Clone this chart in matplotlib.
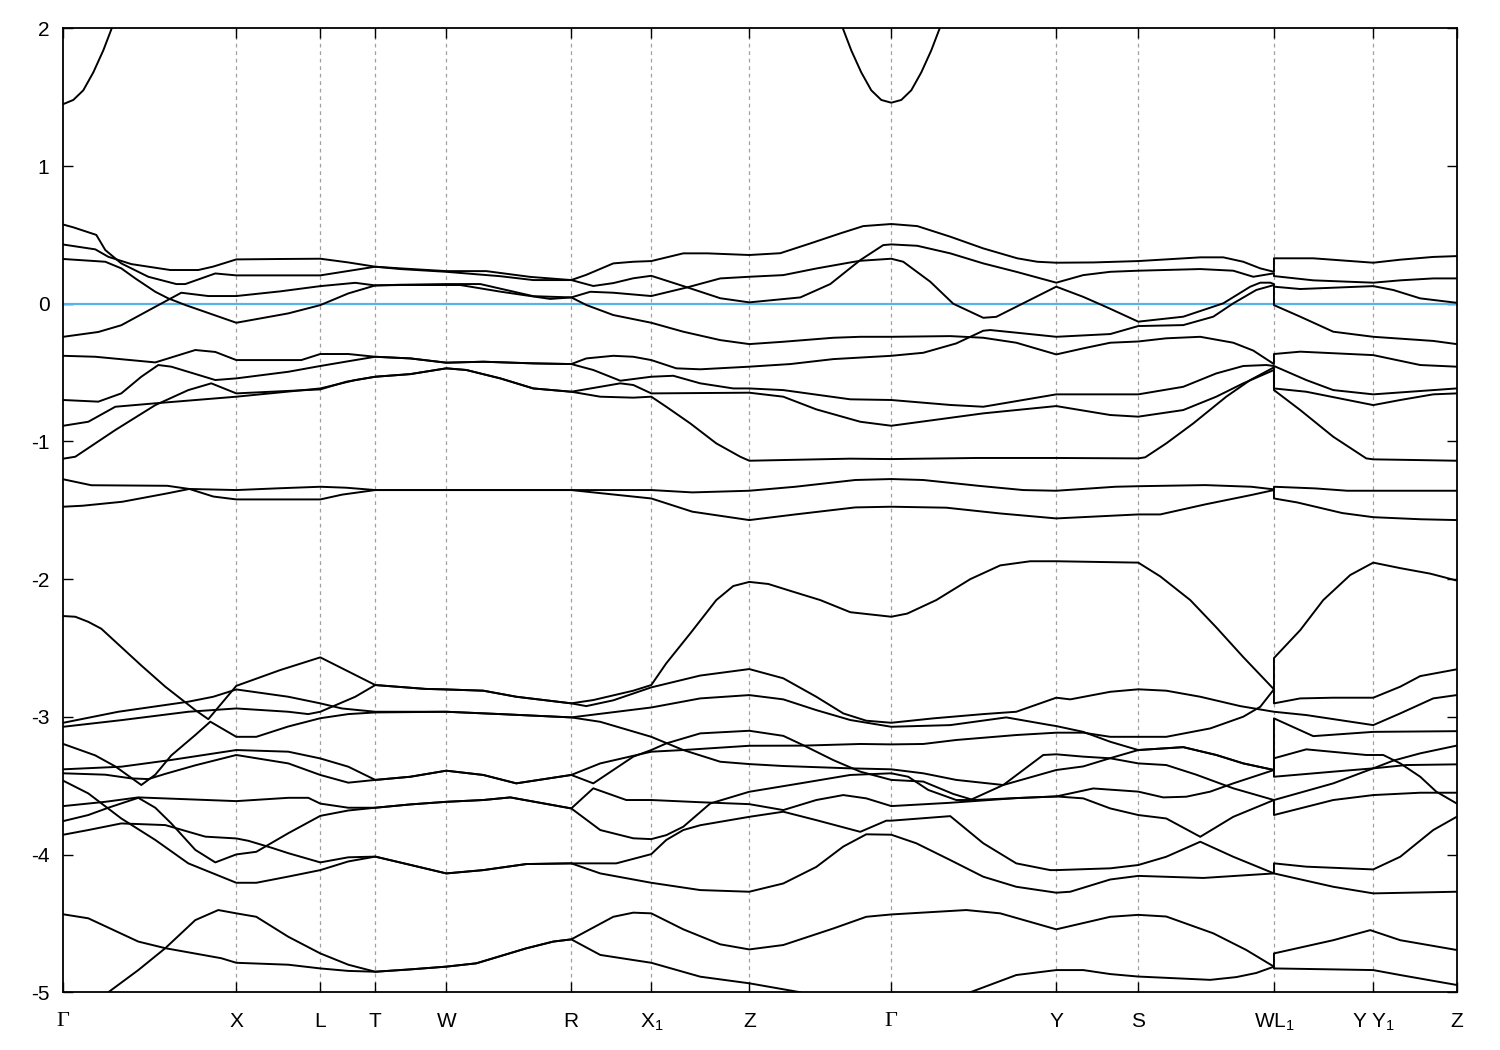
import matplotlib
matplotlib.use("Agg")
import matplotlib.pyplot as plt

plt.rcParams['font.family'] = ['Liberation Sans', 'DejaVu Sans']
plt.rcParams['mathtext.fontset'] = 'custom'
plt.rcParams['mathtext.rm'] = 'Liberation Sans'
plt.rcParams['mathtext.default'] = 'regular'
plt.rcParams['axes.unicode_minus'] = False

# ---- high-symmetry path ----
k_ticks = [0.0, 1.73, 2.57, 3.12, 3.83, 5.08, 5.88, 6.86, 8.28, 9.93, 10.75, 12.107, 13.10, 13.934]
k_labels = ['Γ', 'X', 'L', 'T', 'W', 'R', 'X$_1$', 'Z', 'Γ', 'Y', 'S', 'WL$_1$', 'Y Y$_1$', 'Z']
e_ticks = [2, 1, 0, -1, -2, -3, -4, -5]
e_fermi = 0.0

# ---- bands: (k, E) knots ----
band_c1 = [(0, 1.45), (0.10, 1.48), (0.20, 1.55), (0.30, 1.68), (0.40, 1.84), (0.50, 2.03), (0.65, 2.35),
           (0.9, 2.8), (7.4, 2.8), (7.66, 2.35), (7.78, 2.03), (7.88, 1.84), (7.98, 1.68), (8.08, 1.55),
           (8.18, 1.48), (8.28, 1.46), (8.38, 1.48), (8.48, 1.55), (8.58, 1.68), (8.68, 1.84), (8.78, 2.03),
           (8.92, 2.35), (9.2, 2.8), (13.934, 2.8)]

band_v1 = [(0, 0.575), (0.10, 0.555), (0.33, 0.50), (0.42, 0.39), (0.58, 0.293), (0.85, 0.196), (1.13, 0.143),
           (1.22, 0.143), (1.52, 0.22), (1.73, 0.206), (2.57, 0.206), (3.12, 0.269), (3.37, 0.257), (3.83, 0.237),
           (4.23, 0.237), (4.67, 0.195), (5.08, 0.172), (5.23, 0.21), (5.50, 0.293), (5.70, 0.305), (5.88, 0.31),
           (6.20, 0.366), (6.44, 0.366), (6.86, 0.354), (7.17, 0.367), (7.47, 0.438), (7.77, 0.511), (8.0, 0.564),
           (8.28, 0.579), (8.54, 0.564), (8.87, 0.487), (9.20, 0.402), (9.54, 0.33), (9.74, 0.305), (9.93, 0.298),
           (10.30, 0.30), (10.75, 0.31), (11.37, 0.337), (11.60, 0.337), (11.80, 0.305), (11.97, 0.257),
           (12.107, 0.232), (12.107, 0.33), (12.50, 0.33), (13.10, 0.298), (13.37, 0.32), (13.70, 0.34),
           (13.934, 0.346)]

band_v2 = [(0, 0.43), (0.32, 0.395), (0.45, 0.341), (0.68, 0.288), (1.07, 0.245), (1.35, 0.245), (1.50, 0.27),
           (1.73, 0.322), (2.17, 0.325), (2.57, 0.327), (2.85, 0.30), (3.12, 0.269), (3.37, 0.252), (3.83, 0.232),
           (4.37, 0.20), (4.70, 0.172), (5.08, 0.172), (5.30, 0.129), (5.50, 0.15), (5.70, 0.185), (5.88, 0.203),
           (6.24, 0.119), (6.57, 0.04), (6.86, 0.01), (7.37, 0.046), (7.67, 0.143), (7.97, 0.317), (8.20, 0.426),
           (8.28, 0.431), (8.54, 0.421), (8.87, 0.366), (9.20, 0.293), (9.53, 0.232), (9.93, 0.153),
           (10.20, 0.208), (10.47, 0.232), (10.75, 0.24), (11.37, 0.252), (11.70, 0.24), (11.90, 0.196),
           (12.107, 0.221), (12.107, 0.201), (12.50, 0.17), (13.10, 0.153), (13.37, 0.17), (13.70, 0.184),
           (13.934, 0.184)]

band_v3 = [(0, 0.325), (0.42, 0.305), (0.58, 0.257), (0.72, 0.184), (0.92, 0.087), (1.05, 0.039), (1.22, -0.009),
           (1.73, -0.138), (2.25, -0.07), (2.57, -0.01), (2.85, 0.075), (3.12, 0.133), (3.37, 0.138),
           (3.83, 0.143), (4.17, 0.143), (4.70, 0.055), (5.08, 0.046), (5.27, 0.087), (5.50, 0.08), (5.88, 0.056),
           (6.24, 0.119), (6.57, 0.184), (6.86, 0.196), (7.20, 0.208), (7.53, 0.256), (7.87, 0.30), (7.97, 0.312),
           (8.28, 0.327), (8.40, 0.305), (8.67, 0.16), (8.90, 0.0), (9.20, -0.102), (9.33, -0.095),
           (9.53, -0.022), (9.93, 0.124), (10.20, 0.05), (10.45, -0.03), (10.75, -0.13), (11.20, -0.094),
           (11.60, 0.003), (11.87, 0.124), (11.97, 0.153), (12.07, 0.153), (12.107, 0.143), (12.107, 0.124),
           (12.37, 0.107), (13.10, 0.128), (13.30, 0.10), (13.57, 0.039), (13.934, 0.007)]

band_v4 = [(0, -0.24), (0.35, -0.205), (0.58, -0.156), (0.92, -0.022), (1.18, 0.08), (1.45, 0.056),
           (1.73, 0.056), (2.17, 0.09), (2.57, 0.128), (2.92, 0.152), (3.12, 0.133), (3.37, 0.136), (3.83, 0.136),
           (3.97, 0.136), (4.37, 0.088), (4.87, 0.035), (5.08, 0.046), (5.23, -0.009), (5.50, -0.082),
           (5.88, -0.138), (6.20, -0.203), (6.57, -0.264), (6.86, -0.293), (7.20, -0.276), (7.70, -0.247),
           (7.97, -0.24), (8.28, -0.24), (8.87, -0.235), (9.20, -0.247), (9.53, -0.283), (9.93, -0.368),
           (10.20, -0.324), (10.47, -0.283), (10.75, -0.274), (11.03, -0.251), (11.37, -0.24), (11.70, -0.283),
           (11.90, -0.34), (12.107, -0.438), (12.107, -0.365), (12.37, -0.348), (13.10, -0.373), (13.57, -0.445),
           (13.934, -0.457)]

band_v5 = [(0, -0.378), (0.32, -0.385), (0.92, -0.426), (1.32, -0.336), (1.52, -0.35), (1.73, -0.409),
           (2.38, -0.409), (2.57, -0.365), (2.85, -0.365), (3.12, -0.385), (3.47, -0.397), (3.83, -0.428),
           (4.20, -0.421), (4.70, -0.433), (5.08, -0.438), (5.23, -0.397), (5.50, -0.378), (5.70, -0.385),
           (5.88, -0.409), (6.13, -0.469), (6.37, -0.476), (6.86, -0.457), (7.27, -0.438), (7.70, -0.402),
           (8.28, -0.378), (8.60, -0.356), (8.93, -0.288), (9.20, -0.196), (9.27, -0.191), (9.53, -0.21),
           (9.93, -0.24), (10.20, -0.23), (10.47, -0.22), (10.75, -0.162), (11.20, -0.155), (11.50, -0.094),
           (11.70, 0.003), (11.93, 0.10), (12.107, 0.136), (12.107, -0.01), (12.37, -0.094), (12.70, -0.203),
           (13.10, -0.24), (13.70, -0.27), (13.934, -0.293)]

band_v6 = [(0, -0.699), (0.35, -0.711), (0.58, -0.651), (0.78, -0.53), (0.95, -0.445), (1.08, -0.457),
           (1.52, -0.554), (1.73, -0.542), (2.25, -0.494), (2.57, -0.452), (2.92, -0.409), (3.12, -0.385),
           (3.47, -0.397), (3.83, -0.428), (4.20, -0.421), (4.70, -0.433), (5.08, -0.438), (5.30, -0.481),
           (5.57, -0.559), (5.88, -0.53), (6.10, -0.523), (6.37, -0.578), (6.70, -0.615), (6.86, -0.615),
           (7.20, -0.627), (7.87, -0.694), (8.28, -0.699), (8.87, -0.735), (9.20, -0.748), (9.93, -0.658),
           (10.47, -0.658), (10.75, -0.658), (11.20, -0.603), (11.53, -0.506), (11.80, -0.452), (12.03, -0.445),
           (12.107, -0.452), (12.107, -0.452), (12.43, -0.554), (12.70, -0.627), (13.10, -0.658),
           (13.70, -0.627), (13.934, -0.615)]

band_v7 = [(0, -0.886), (0.25, -0.857), (0.52, -0.748), (0.92, -0.723), (1.73, -0.675), (2.57, -0.615),
           (2.92, -0.554), (3.12, -0.53), (3.47, -0.511), (3.83, -0.469), (4.03, -0.481), (4.37, -0.542),
           (4.70, -0.615), (5.08, -0.639), (5.37, -0.603), (5.57, -0.578), (5.70, -0.59), (5.88, -0.651),
           (6.86, -0.646), (7.20, -0.675), (7.53, -0.767), (7.97, -0.857), (8.28, -0.886), (8.70, -0.845),
           (9.20, -0.796), (9.93, -0.743), (10.07, -0.76), (10.47, -0.808), (10.75, -0.82), (11.20, -0.772),
           (11.53, -0.675), (11.80, -0.578), (12.107, -0.481), (12.107, -0.615), (12.43, -0.639), (13.10, -0.736),
           (13.37, -0.699), (13.70, -0.658), (13.934, -0.651)]

band_v8 = [(0, -1.125), (0.12, -1.111), (0.52, -0.917), (0.92, -0.736), (1.25, -0.627), (1.48, -0.578),
           (1.73, -0.651), (2.57, -0.622), (2.83, -0.566), (3.12, -0.53), (3.47, -0.511), (3.83, -0.469),
           (4.03, -0.481), (4.37, -0.542), (4.70, -0.615), (5.08, -0.639), (5.37, -0.675), (5.70, -0.682),
           (5.88, -0.675), (6.03, -0.748), (6.27, -0.869), (6.53, -1.014), (6.77, -1.111), (6.86, -1.14),
           (7.87, -1.125), (8.28, -1.128), (9.13, -1.12), (9.93, -1.12), (10.75, -1.123), (10.82, -1.115),
           (11.03, -1.014), (11.30, -0.869), (11.63, -0.675), (11.87, -0.554), (12.107, -0.462),
           (12.107, -0.627), (12.37, -0.772), (12.70, -0.966), (13.03, -1.123), (13.10, -1.13), (13.53, -1.135),
           (13.934, -1.14)]

band_s1 = [(0, -1.275), (0.28, -1.318), (1.04, -1.322), (1.26, -1.345), (1.50, -1.40), (1.73, -1.421),
           (2.57, -1.421), (2.79, -1.386), (3.12, -1.353), (3.83, -1.353), (5.08, -1.353), (5.30, -1.370),
           (5.88, -1.414), (6.29, -1.51), (6.86, -1.571), (7.32, -1.530), (7.92, -1.479), (8.28, -1.474),
           (8.83, -1.481), (9.37, -1.523), (9.93, -1.559), (10.75, -1.530), (10.97, -1.530), (11.42, -1.457),
           (11.88, -1.389), (12.107, -1.353), (12.107, -1.414), (12.34, -1.443), (12.79, -1.52), (13.10, -1.55),
           (13.57, -1.565), (13.934, -1.571)]

band_s2 = [(0, -1.474), (0.19, -1.467), (0.59, -1.438), (1.04, -1.377), (1.26, -1.345), (1.73, -1.353),
           (2.16, -1.34), (2.57, -1.329), (2.83, -1.336), (3.12, -1.353), (3.83, -1.353), (5.08, -1.353),
           (5.88, -1.353), (6.29, -1.37), (6.86, -1.358), (7.32, -1.329), (7.92, -1.28), (8.28, -1.273),
           (8.60, -1.28), (9.15, -1.322), (9.60, -1.353), (9.93, -1.358), (10.52, -1.329), (10.75, -1.325),
           (11.42, -1.317), (11.88, -1.329), (12.107, -1.348), (12.107, -1.329), (12.52, -1.341),
           (12.84, -1.358), (13.10, -1.358), (13.934, -1.358)]

band_d1 = [(0, -2.268), (0.12, -2.273), (0.25, -2.31), (0.38, -2.36), (0.78, -2.627), (1.02, -2.781),
           (1.32, -2.951), (1.45, -3.017), (1.73, -2.775), (2.17, -2.66), (2.57, -2.568), (3.12, -2.769),
           (3.62, -2.797), (3.83, -2.801), (4.20, -2.81), (4.53, -2.854), (5.08, -2.902), (5.30, -2.878),
           (5.70, -2.81), (5.88, -2.769), (6.03, -2.611), (6.27, -2.394), (6.53, -2.152), (6.70, -2.05),
           (6.86, -2.02), (7.05, -2.035), (7.27, -2.085), (7.57, -2.152), (7.87, -2.24), (8.28, -2.273),
           (8.44, -2.25), (8.73, -2.152), (9.07, -2.0), (9.37, -1.9), (9.67, -1.87), (9.93, -1.87),
           (10.75, -1.88), (10.97, -1.98), (11.27, -2.152), (11.53, -2.35), (11.80, -2.566), (12.107, -2.80),
           (12.107, -2.573), (12.37, -2.37), (12.60, -2.152), (12.87, -1.97), (13.10, -1.88), (13.37, -1.92),
           (13.67, -1.96), (13.934, -2.01)]

band_d2 = [(0, -3.043), (0.55, -2.963), (1.25, -2.890), (1.50, -2.854), (1.73, -2.801), (2.25, -2.854),
           (2.57, -2.902), (2.785, -2.939), (3.12, -2.963), (3.83, -2.963), (4.37, -2.98), (5.08, -3.004),
           (5.88, -2.932), (6.37, -2.866), (6.86, -2.842), (7.20, -2.873), (7.53, -2.951), (7.87, -3.023),
           (8.28, -3.072), (8.87, -3.06), (9.43, -3.004), (9.87, -3.06), (9.93, -3.067), (10.20, -3.109),
           (10.47, -3.181), (10.75, -3.241), (11.20, -3.22), (11.53, -3.277), (11.80, -3.338), (12.107, -3.386),
           (12.107, -3.011), (12.50, -3.14), (13.10, -3.109), (13.934, -3.104)]

band_d3 = [(0, -3.072), (0.58, -3.024), (1.25, -2.963), (1.73, -2.939), (2.25, -2.963), (2.45, -2.98),
           (2.57, -2.963), (2.92, -2.854), (3.12, -2.769), (3.62, -2.797), (3.83, -2.801), (4.20, -2.81),
           (4.53, -2.854), (5.08, -2.902), (5.23, -2.922), (5.50, -2.88), (5.88, -2.786), (6.37, -2.70),
           (6.86, -2.653), (7.20, -2.72), (7.53, -2.854), (7.80, -2.975), (8.03, -3.028), (8.28, -3.043),
           (8.70, -3.011), (9.20, -2.98), (9.53, -2.963), (9.93, -2.861), (10.07, -2.873), (10.47, -2.818),
           (10.75, -2.80), (11.03, -2.81), (11.37, -2.854), (11.77, -2.922), (12.107, -2.963),
           (12.107, -2.963), (12.43, -2.987), (13.10, -3.06), (13.37, -2.975), (13.70, -2.866), (13.934, -2.842)]

band_d4 = [(0, -3.197), (0.32, -3.28), (0.52, -3.36), (0.78, -3.495), (0.92, -3.42), (1.08, -3.28),
           (1.32, -3.132), (1.47, -3.035), (1.73, -3.145), (1.93, -3.145), (2.25, -3.07), (2.57, -3.01),
           (2.85, -2.98), (3.12, -2.968), (3.83, -2.963), (4.37, -2.98), (5.08, -3.004), (5.37, -3.036),
           (5.88, -3.145), (6.20, -3.241), (6.57, -3.326), (6.86, -3.343), (7.20, -3.357), (7.87, -3.374),
           (8.28, -3.381), (8.60, -3.41), (8.93, -3.458), (9.40, -3.495), (9.93, -3.386), (10.20, -3.36),
           (10.47, -3.30), (10.75, -3.241), (11.20, -3.22), (11.53, -3.277), (11.80, -3.338), (12.107, -3.386),
           (12.107, -3.301), (12.43, -3.236), (13.03, -3.277), (13.20, -3.277), (13.37, -3.338),
           (13.57, -3.435), (13.73, -3.543), (13.934, -3.629)]

band_d5 = [(0, -3.381), (0.58, -3.362), (1.08, -3.313), (1.73, -3.241), (2.25, -3.253), (2.57, -3.302),
           (2.85, -3.362), (3.12, -3.458), (3.47, -3.435), (3.83, -3.391), (4.20, -3.422), (4.53, -3.483),
           (5.08, -3.422), (5.30, -3.483), (5.50, -3.386), (5.70, -3.289), (5.88, -3.241), (6.03, -3.193),
           (6.37, -3.12), (6.86, -3.101), (7.20, -3.138), (7.40, -3.206), (7.70, -3.314), (7.97, -3.398),
           (8.28, -3.458), (8.60, -3.47), (8.90, -3.56), (9.10, -3.604), (9.53, -3.59), (9.93, -3.578),
           (10.30, -3.52), (10.75, -3.543), (11.00, -3.585), (11.23, -3.58), (11.47, -3.543), (11.70, -3.483),
           (12.107, -3.386), (12.107, -3.435), (12.70, -3.398), (13.10, -3.374), (13.30, -3.318),
           (13.57, -3.265), (13.934, -3.209)]

band_d6 = [(0, -3.41), (0.42, -3.42), (0.68, -3.447), (0.85, -3.452), (1.02, -3.414), (1.32, -3.352),
           (1.73, -3.277), (2.25, -3.338), (2.57, -3.422), (2.85, -3.478), (3.12, -3.458), (3.47, -3.435),
           (3.83, -3.391), (4.20, -3.422), (4.53, -3.483), (5.08, -3.422), (5.37, -3.338), (5.88, -3.253),
           (6.20, -3.241), (6.86, -3.21), (7.40, -3.209), (7.97, -3.197), (8.28, -3.20), (8.60, -3.197),
           (8.93, -3.168), (9.53, -3.132), (9.93, -3.115), (10.20, -3.115), (10.47, -3.145), (10.75, -3.145),
           (11.03, -3.145), (11.47, -3.084), (11.80, -2.999), (11.97, -2.927), (12.107, -2.80),
           (12.107, -2.902), (12.37, -2.866), (12.70, -2.861), (13.10, -2.861), (13.37, -2.781),
           (13.57, -2.704), (13.934, -2.655)]

band_d7 = [(0, -3.464), (0.25, -3.556), (0.58, -3.738), (0.92, -3.894), (1.25, -4.064), (1.73, -4.205),
           (1.93, -4.205), (2.25, -4.16), (2.57, -4.113), (2.85, -4.05), (3.12, -4.015), (3.47, -4.075),
           (3.83, -4.137), (4.20, -4.113), (4.63, -4.069), (5.08, -4.064), (5.37, -4.137), (5.88, -4.205),
           (6.37, -4.258), (6.86, -4.27), (7.20, -4.21), (7.53, -4.09), (7.80, -3.942), (8.03, -3.853),
           (8.28, -3.856), (8.53, -3.918), (8.87, -4.04), (9.20, -4.161), (9.53, -4.234), (9.93, -4.277),
           (10.07, -4.27), (10.47, -4.181), (10.75, -4.155), (11.40, -4.17), (12.107, -4.137),
           (12.107, -4.137), (12.70, -4.234), (13.10, -4.282), (13.934, -4.27)]

band_d8 = [(0, -3.648), (0.42, -3.617), (0.75, -3.585), (1.73, -3.612), (2.25, -3.588), (2.45, -3.588),
           (2.57, -3.63), (2.85, -3.66), (3.12, -3.66), (3.47, -3.636), (3.83, -3.617), (4.20, -3.604),
           (4.47, -3.585), (5.08, -3.665), (5.30, -3.519), (5.63, -3.604), (5.88, -3.604), (6.37, -3.62),
           (6.86, -3.634), (7.20, -3.677), (7.53, -3.604), (7.80, -3.568), (8.03, -3.592), (8.28, -3.648),
           (8.87, -3.624), (9.53, -3.59), (9.93, -3.578), (10.20, -3.592), (10.47, -3.665), (10.75, -3.713),
           (11.03, -3.738), (11.37, -3.871), (11.70, -3.726), (12.107, -3.604), (12.107, -3.713),
           (12.70, -3.604), (13.10, -3.568), (13.57, -3.551), (13.934, -3.551)]

band_d9 = [(0, -3.757), (0.25, -3.713), (0.45, -3.66), (0.75, -3.588), (0.92, -3.66), (1.08, -3.774),
           (1.32, -3.966), (1.52, -4.057), (1.73, -3.999), (1.93, -3.98), (2.25, -3.845), (2.57, -3.719),
           (2.85, -3.68), (3.12, -3.66), (3.47, -3.636), (3.83, -3.617), (4.20, -3.604), (4.47, -3.585),
           (5.08, -3.665), (5.37, -3.822), (5.70, -3.882), (5.88, -3.888), (6.03, -3.859), (6.20, -3.798),
           (6.47, -3.629), (6.86, -3.544), (7.37, -3.483), (7.87, -3.422), (8.28, -3.41), (8.45, -3.435),
           (8.65, -3.531), (8.93, -3.604), (9.07, -3.604), (9.40, -3.495), (9.80, -3.277), (9.93, -3.272),
           (10.20, -3.289), (10.47, -3.301), (10.75, -3.338), (11.03, -3.35), (11.33, -3.42), (11.70, -3.519),
           (12.107, -3.604), (12.107, -3.604), (12.70, -3.483), (13.10, -3.374), (13.43, -3.35),
           (13.934, -3.345)]

band_d10 = [(0, -3.856), (0.25, -3.822), (0.58, -3.774), (1.02, -3.786), (1.42, -3.87), (1.73, -3.883),
            (1.85, -3.9), (2.08, -3.95), (2.25, -3.99), (2.57, -4.057), (2.85, -4.02), (3.12, -4.015),
            (3.47, -4.075), (3.83, -4.137), (4.20, -4.113), (4.63, -4.069), (5.08, -4.064), (5.53, -4.064),
            (5.88, -3.997), (6.03, -3.894), (6.20, -3.822), (6.37, -3.787), (6.86, -3.726), (7.20, -3.689),
            (7.53, -3.75), (7.97, -3.835), (8.23, -3.754), (8.28, -3.754), (8.87, -3.721), (9.20, -3.918),
            (9.53, -4.064), (9.87, -4.113), (9.93, -4.113), (10.47, -4.10), (10.75, -4.076), (11.03, -4.016),
            (11.37, -3.907), (11.70, -4.016), (12.107, -4.137), (12.107, -4.064), (12.43, -4.088),
            (13.10, -4.108), (13.37, -4.016), (13.70, -3.822), (13.934, -3.726)]

band_d11 = [(0, -4.434), (0.25, -4.463), (0.75, -4.632), (1.02, -4.68), (1.58, -4.753), (1.73, -4.786),
            (2.25, -4.80), (2.57, -4.827), (2.85, -4.845), (3.12, -4.851), (3.47, -4.834), (3.83, -4.814),
            (4.13, -4.790), (4.63, -4.681), (4.90, -4.632), (5.08, -4.616), (5.50, -4.452), (5.70, -4.422),
            (5.88, -4.427), (6.20, -4.543), (6.57, -4.652), (6.86, -4.689), (7.20, -4.657), (7.70, -4.537),
            (8.03, -4.452), (8.28, -4.435), (9.03, -4.403), (9.37, -4.427), (9.93, -4.543), (10.47, -4.452),
            (10.75, -4.438), (11.03, -4.45), (11.50, -4.572), (11.83, -4.693), (12.107, -4.814),
            (12.107, -4.718), (12.70, -4.622), (13.07, -4.549), (13.37, -4.622), (13.934, -4.693)]

band_d12 = [(0, -5.25), (0.45, -5.0), (0.75, -4.839), (1.02, -4.68), (1.32, -4.476), (1.55, -4.403),
            (1.73, -4.427), (1.93, -4.452), (2.25, -4.597), (2.57, -4.718), (2.85, -4.80), (3.12, -4.851),
            (3.47, -4.834), (3.83, -4.814), (4.13, -4.790), (4.63, -4.681), (4.90, -4.632), (5.08, -4.616),
            (5.37, -4.729), (5.70, -4.766), (5.88, -4.786), (6.37, -4.887), (6.86, -4.935), (7.37, -5.0),
            (7.8, -5.18), (8.28, -5.25), (8.75, -5.18), (9.07, -5.0), (9.53, -4.875), (9.93, -4.839),
            (10.20, -4.839), (10.47, -4.868), (10.75, -4.886), (11.47, -4.91), (11.73, -4.89), (11.93, -4.86),
            (12.107, -4.814), (12.107, -4.827), (12.70, -4.834), (13.10, -4.839), (13.37, -4.875),
            (13.934, -4.947)]

bands = [band_c1, band_v1, band_v2, band_v3, band_v4, band_v5, band_v6, band_v7, band_v8,
         band_s1, band_s2, band_d1, band_d2, band_d3, band_d4, band_d5, band_d6, band_d7, band_d8,
         band_d9, band_d10, band_d11, band_d12]

# ---- figure ----
fig = plt.figure(figsize=(15, 10.5), dpi=100)
ax = fig.add_axes([0.0422, 0.0550, 0.9289, 0.9180])

for kx in k_ticks[1:-1]:
    ax.axvline(kx, color='#a0a0a0', lw=0.9, linestyle=(0, (3, 3)), zorder=1)

ax.axhline(e_fermi, color='#56B4E9', lw=1.6, zorder=2)

for b in bands:
    ks = [p[0] for p in b]
    es = [p[1] for p in b]
    ax.plot(ks, es, color='black', lw=1.4, solid_joinstyle='round', zorder=3)

ax.set_xlim(k_ticks[0], k_ticks[-1])
ax.set_ylim(-5, 2)
ax.set_xticks(k_ticks)
ax.set_xticklabels(k_labels)
ax.set_yticks(e_ticks)
ax.set_yticklabels([str(v) for v in e_ticks])

ax.tick_params(axis='both', direction='in', length=7, width=1.0, labelsize=15,
               top=True, right=True, colors='black')
ax.tick_params(axis='x', pad=14)
ax.tick_params(axis='y', pad=10)

for lab in ax.get_xticklabels():
    if lab.get_text() == 'Γ':
        lab.set_fontfamily(['Liberation Serif', 'DejaVu Serif'])
        lab.set_fontsize(16)

for sp in ax.spines.values():
    sp.set_linewidth(1.3)
    sp.set_color('black')

fig.savefig('out.png', dpi=100)
